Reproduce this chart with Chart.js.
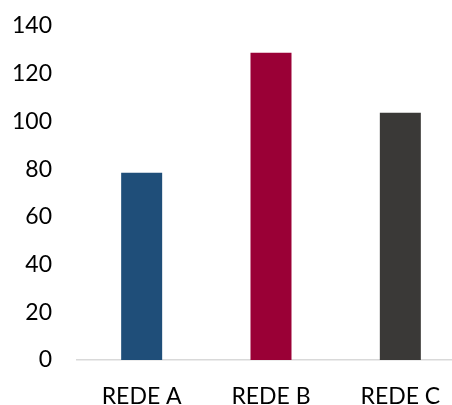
<!DOCTYPE html>
<html>
<head>
<meta charset="utf-8">
<script src="https://cdn.jsdelivr.net/npm/chart.js@4"></script>
<style>
  html, body { margin: 0; padding: 0; background: #fff; overflow: hidden; }
  #wrap { width: 465px; height: 405px; }
</style>
</head>
<body>
<div id="wrap"><canvas id="myChart" width="465" height="405"></canvas></div>
<script>
// Chart data
const categories = ['REDE A', 'REDE B', 'REDE C'];
const values = [78.5, 128.8, 103.6];
const barColors = ['#1F4E79', '#9A0036', '#3A3937'];
const yTicks = [0, 20, 40, 60, 80, 100, 120, 140];

let ctx = document.getElementById('myChart').getContext('2d');

new Chart(ctx, {
  type: 'bar',
  data: {
    labels: categories,
    datasets: [
      {
        data: values,
        backgroundColor: barColors,
        borderWidth: 0,
        barPercentage: 0.317,
        categoryPercentage: 1,
      },
    ],
  },
  options: {
    responsive: false,
    animation: false,
    layout: { padding: { top: 26, left: 0, right: 0, bottom: 0 } },
    scales: {
      y: {
        min: yTicks[0],
        max: yTicks[yTicks.length - 1],
        afterBuildTicks: (scale) => {
          scale.ticks = yTicks.map((v) => ({ value: v }));
        },
        afterFit: (scale) => {
          // pin the plot area so it lines up with the reference
          scale.width = 77;
          scale.paddingTop = 0;
          scale.paddingBottom = 0;
        },
        grid: { display: false, drawTicks: false },
        border: { display: false },
        ticks: {
          padding: 25,
          color: '#000',
          font: { family: 'Lato', size: 23 },
        },
      },
      x: {
        afterFit: (scale) => {
          scale.height = 45;
          scale.paddingLeft = 0;
          scale.paddingRight = 0;
        },
        grid: { display: false, drawTicks: false },
        border: { display: true, color: '#D9D9D9', width: 1.5 },
        ticks: {
          padding: 23,
          color: '#000',
          font: { family: 'Lato', size: 23 },
        },
      },
    },
    plugins: {
      legend: { display: false },
      tooltip: { enabled: false },
    },
  },
});
</script>
</body>
</html>
